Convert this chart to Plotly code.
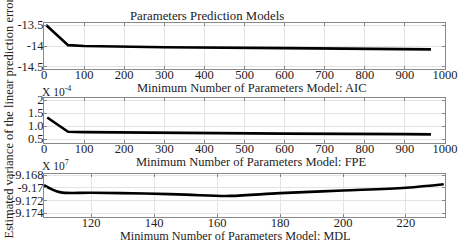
import plotly.graph_objects as go

W, H = 458, 242

# Data
aic_x = [5, 60, 100, 300, 600, 900, 965]
aic_y = [-13.5, -13.98, -14.0, -14.03, -14.05, -14.07, -14.08]

fpe_x = [8, 60, 100, 300, 600, 900, 965]
fpe_y = [1.33, 0.78, 0.77, 0.74, 0.71, 0.69, 0.68]

mdl_x = [105, 110, 120, 137, 150, 164, 180, 200, 220, 232]
mdl_y = [-9.1696, -9.1707, -9.1708, -9.17092, -9.1711, -9.1713, -9.17086, -9.17045, -9.17, -9.16945]

titles = ["Minimum Number of Parameters Model: AIC",
          "Minimum Number of Parameters Model: FPE",
          "Minimum Number of Parameters Model: MDL"]

def px(x):
    return x / W

def py(y):
    return 1 - y / H

FONT = "Times New Roman, Liberation Serif, DejaVu Serif, serif"
fig = go.Figure()
lw = 2.6
fig.add_trace(go.Scatter(x=aic_x, y=aic_y, mode="lines", line=dict(color="black", width=lw),
                         xaxis="x", yaxis="y", showlegend=False))
fig.add_trace(go.Scatter(x=fpe_x, y=fpe_y, mode="lines", line=dict(color="black", width=lw),
                         xaxis="x2", yaxis="y2", showlegend=False))
fig.add_trace(go.Scatter(x=mdl_x, y=mdl_y, mode="lines", line=dict(color="black", width=lw, shape="spline"),
                         xaxis="x3", yaxis="y3", showlegend=False))

xdom = [px(44), px(445)]
common = dict(showline=True, linecolor="#888", linewidth=1, mirror="ticks", ticks="inside",
              ticklen=3, tickcolor="#888", showgrid=True, gridcolor="#e4e4e4", gridwidth=1,
              zeroline=False, automargin=False, tickfont=dict(family=FONT, size=12.5, color="#222"))
xc = dict(common, ticklabelstandoff=-6)
yc = dict(common, ticklabelstandoff=-3)

fig.update_layout(
    width=W, height=H, margin=dict(l=0, r=0, t=0, b=0, pad=0, autoexpand=False),
    paper_bgcolor="white", plot_bgcolor="white", font=dict(family=FONT),
    xaxis=dict(domain=xdom, anchor="y", range=[0, 1000], tickvals=list(range(0, 1001, 100)), **xc),
    yaxis=dict(domain=[py(69), py(23)], anchor="x", range=[-14.548, -13.452],
               tickvals=[-14.5, -14, -13.5], ticktext=["-14.5", "-14", "-13.5"], **yc),
    xaxis2=dict(domain=xdom, anchor="y2", range=[0, 1000], tickvals=list(range(0, 1001, 100)), **xc),
    yaxis2=dict(domain=[py(143), py(98)], anchor="x2", range=[0.35, 2.08],
                tickvals=[0.5, 1.0, 1.5, 2], ticktext=["0.5", "1.0", "1.5", "2"], **yc),
    xaxis3=dict(domain=xdom, anchor="y3", range=[105, 232.4], tickvals=[120, 140, 160, 180, 200, 220], **xc),
    yaxis3=dict(domain=[py(217), py(174)], anchor="x3", range=[-9.17463, -9.16784],
                tickvals=[-9.174, -9.172, -9.17, -9.168],
                ticktext=["-9.174", "-9.172", "-9.17", "-9.168"], **yc),
)

ann = []
def add(text, x, y, size=12.5, xanchor="center"):
    ann.append(dict(text=text, x=px(x), y=py(y), xref="paper", yref="paper", showarrow=False,
                    xanchor=xanchor, yanchor="middle",
                    font=dict(family=FONT, size=size, color="#222")))

add("Parameters Prediction Models", 207, 16, size=12.8)
add(titles[0], 252, 88)
add(titles[1], 252, 162)
add(titles[2], 235, 236, size=12.2)
add("X 10<sup>-4</sup>", 40, 91, size=11.5, xanchor="left")
add("X 10<sup>7</sup>", 40, 165, size=11.5, xanchor="left")
ann.append(dict(text="Estimated variance of the linear prediction error", textangle=-90,
                x=px(8), y=py(241), xref="paper", yref="paper", xanchor="center", yanchor="bottom",
                showarrow=False, font=dict(family=FONT, size=12.5, color="#222")))
fig.update_layout(annotations=ann)

fig.write_html("out.html")
